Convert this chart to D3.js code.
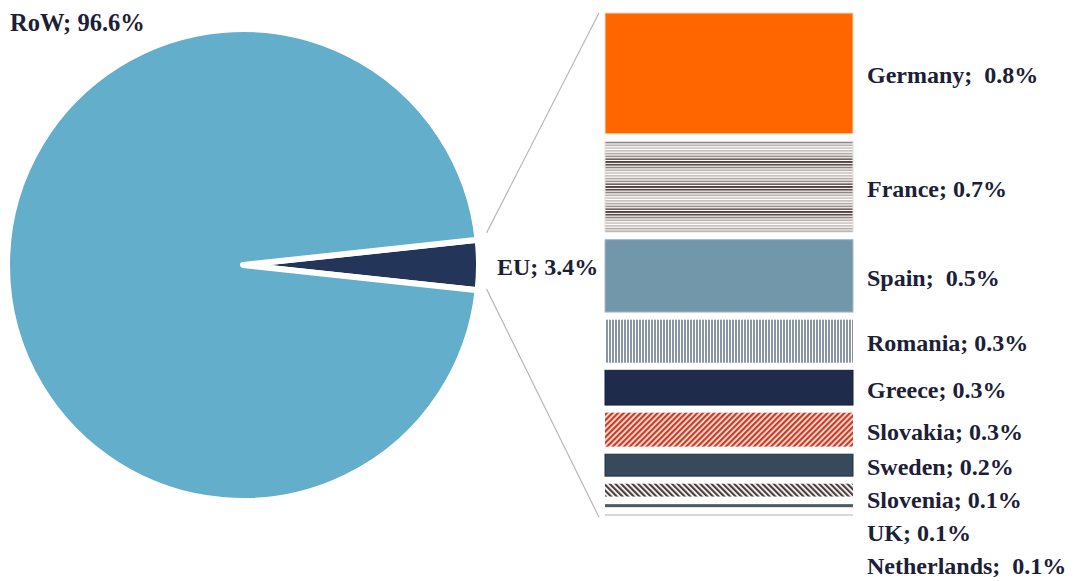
<!DOCTYPE html>
<html>
<head>
<meta charset="utf-8">
<script src="https://cdn.jsdelivr.net/npm/d3@7"></script>
<style>
  html, body { margin: 0; padding: 0; background: #fff; }
  svg { display: block; }
  text { font-family: "Liberation Serif", "Times New Roman", serif; font-weight: bold; fill: #1c2036; white-space: pre; }
</style>
</head>
<body>
<script>
// ---- data ----
const pieCategories = ["EU", "RoW"];
const pieValues = [3.4, 96.6];
const pieLabels = ["EU; 3.4%", "RoW; 96.6%"];

const barCategories = ["Germany", "France", "Spain", "Romania", "Greece", "Slovakia", "Sweden", "Slovenia", "UK", "Netherlands"];
const barValues = [0.80, 0.60, 0.48, 0.285, 0.23, 0.225, 0.145, 0.085, 0.02, 0.003];
const barLabels = ["Germany;  0.8%", "France; 0.7%", "Spain;  0.5%", "Romania; 0.3%", "Greece; 0.3%", "Slovakia; 0.3%", "Sweden; 0.2%", "Slovenia; 0.1%", "UK; 0.1%", "Netherlands;  0.1%"];

// ---- setup ----
const W = 1073, H = 581;
const svg = d3.select("body").append("svg").attr("width", W).attr("height", H);
const defs = svg.append("defs");

// patterns
const fr = defs.append("pattern").attr("id", "p-france").attr("patternUnits", "userSpaceOnUse")
  .attr("width", 8).attr("height", 25);
fr.append("rect").attr("width", 8).attr("height", 25).attr("fill", "#fff");
const frCols = ["#c8c1bd", "#b3aaa6", "#9a908c", "#6e625f", "#3a2c2c", "#5c4c4b", "#8d8380", "#b9b2ae", "#cfc9c6"];
frCols.forEach((c, i) => fr.append("rect").attr("x", 0).attr("y", i * 25 / frCols.length).attr("width", 8).attr("height", 1.7).attr("fill", c));

const ro = defs.append("pattern").attr("id", "p-romania").attr("patternUnits", "userSpaceOnUse")
  .attr("width", 3).attr("height", 10);
ro.append("rect").attr("width", 3).attr("height", 10).attr("fill", "#fff");
ro.append("rect").attr("width", 2).attr("height", 10).attr("fill", "#8a96a6");

const sk = defs.append("pattern").attr("id", "p-slovakia").attr("patternUnits", "userSpaceOnUse")
  .attr("width", 4).attr("height", 4).attr("patternTransform", "rotate(45)");
sk.append("rect").attr("width", 4).attr("height", 4).attr("fill", "#f6e2dc");
sk.append("rect").attr("width", 2.2).attr("height", 4).attr("fill", "#c93b22");

const sl = defs.append("pattern").attr("id", "p-slovenia").attr("patternUnits", "userSpaceOnUse")
  .attr("width", 4).attr("height", 4).attr("patternTransform", "rotate(-45)");
sl.append("rect").attr("width", 4).attr("height", 4).attr("fill", "#fff");
sl.append("rect").attr("width", 2.2).attr("height", 4).attr("fill", "#4d3d3e");

const barFills = ["#ff6600", "url(#p-france)", "#7397aa", "url(#p-romania)", "#1f2b4b", "url(#p-slovakia)", "#374a5b", "url(#p-slovenia)", "#4a5a68", "#4a5a68"];
const barStrokes = ["#ffd9c2", "#e3e0de", "#a9bccb", "none", "#15203a", "none", "#22303d", "none", "none", "none"];

// ---- pie ----
const cx = 243, cy = 265, R = 236;
const euSpan = pieValues[0] / d3.sum(pieValues) * 2 * Math.PI;
const start = Math.PI / 2 - euSpan / 2;
const pie = d3.pie().sort(null).value(d => d).startAngle(start).endAngle(start + 2 * Math.PI);
const arcs = pie(pieValues);
const arc = d3.arc().innerRadius(0).outerRadius(R);
const pieColors = ["#23365a", "#63aecb"];
const pg = svg.append("g").attr("transform", `translate(${cx},${cy})`);
pg.selectAll("path").data(arcs).join("path")
  .attr("d", arc)
  .attr("fill", (d, i) => pieColors[i])
  .attr("stroke", "#fff").attr("stroke-width", 6).attr("stroke-linejoin", "round");

// ---- bars ----
const barX0 = 605, barX1 = 853, barTop = 13, gap = 7.6;
const hScale = d3.scaleLinear().domain([0, 1]).range([0, 151]);
let yy = barTop;
const bars = barValues.map((v, i) => {
  const h = hScale(v);
  const b = { y: yy, h: h, i: i };
  yy += h + gap;
  return b;
});
const barBottom = bars[bars.length - 1].y + bars[bars.length - 1].h;

const bg = svg.append("g");
bg.selectAll("rect").data(bars).join("rect")
  .attr("x", barX0).attr("y", d => d.y)
  .attr("width", barX1 - barX0).attr("height", d => Math.max(d.h, 0))
  .attr("fill", d => barFills[d.i])
  .attr("stroke", d => barStrokes[d.i]).attr("stroke-width", 1);

// ---- leader lines ----
const aTop = arcs[0].startAngle, aBot = arcs[0].endAngle;
const r2 = R + 9;
const p1 = [cx + r2 * Math.sin(aTop), cy - r2 * Math.cos(aTop)];
const p2 = [cx + r2 * Math.sin(aBot), cy - r2 * Math.cos(aBot)];
svg.append("line").attr("x1", p1[0]).attr("y1", p1[1] - 6).attr("x2", barX0 - 6).attr("y2", barTop)
  .attr("stroke", "#b8b8b8").attr("stroke-width", 1.2);
svg.append("line").attr("x1", p2[0]).attr("y1", p2[1] - 2).attr("x2", barX0 - 6).attr("y2", barBottom + 2)
  .attr("stroke", "#b8b8b8").attr("stroke-width", 1.2);

// ---- labels ----
const fs = 24;
svg.append("text").attr("x", 10).attr("y", 31).attr("font-size", fs + 0.5).text(pieLabels[1]);
svg.append("text").attr("x", 497).attr("y", cy + 2).attr("dy", "0.33em").attr("font-size", fs).text(pieLabels[0]);

let prev = -Infinity;
const labelYs = bars.map(b => {
  let c = b.y + b.h / 2 + 2;
  c = Math.max(c, prev + 33);
  prev = c;
  return c;
});
svg.append("g").selectAll("text").data(bars).join("text")
  .attr("x", 867).attr("y", (d, i) => labelYs[i]).attr("dy", "0.33em")
  .attr("font-size", fs)
  .text(d => barLabels[d.i]);
</script>
</body>
</html>
